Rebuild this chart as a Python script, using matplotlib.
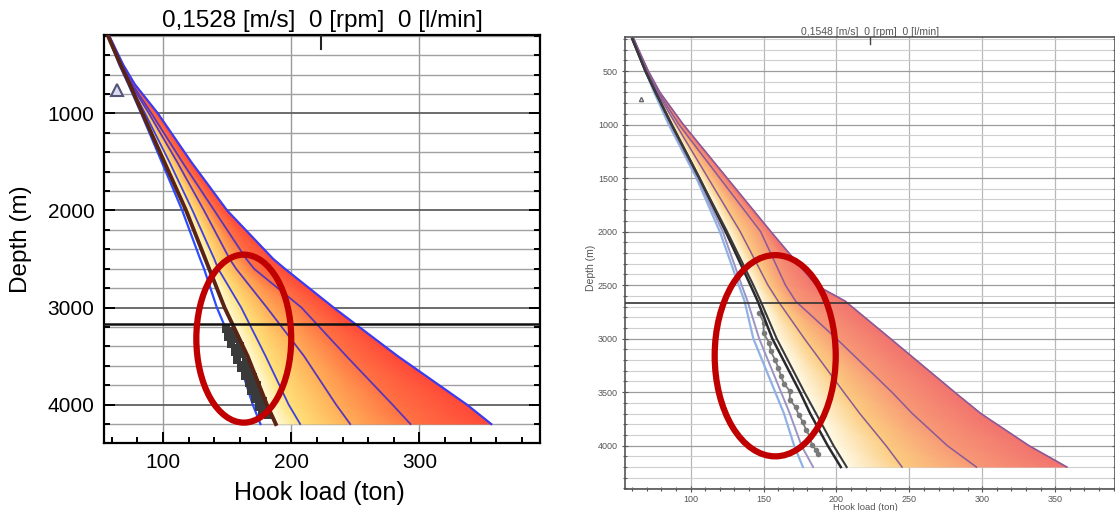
import matplotlib
matplotlib.use("Agg")
import matplotlib.pyplot as plt
import numpy as np
from matplotlib.colors import LinearSegmentedColormap
from matplotlib.patches import Ellipse
from matplotlib.ticker import MultipleLocator

plt.rcParams['font.family'] = ['Liberation Sans', 'DejaVu Sans']

# ---------------- Left chart data ----------------
L_TITLE = "0,1528 [m/s]  0 [rpm]  0 [l/min]"
L_DEPTH = [200, 500, 700, 1000, 1500, 2000, 2500, 2600, 3000, 3500, 4000, 4200]
L_BLUE = [57, 66, 73, 83, 99, 115, 129, 132, 142, 158, 170, 176]
L_BROWN = [57, 67, 74, 84, 101, 118, 133, 136, 148, 166, 181, 188]
L_C3 = [58, 67, 74, 86, 105, 123, 140, 143, 161, 180, 198, 207]
L_C4 = [58, 67, 75, 89, 111, 132, 152, 157, 181, 210, 235, 246]
L_C5 = [58, 68, 76, 91, 115, 140, 165, 171, 208, 243, 279, 293]
L_ENV = [58, 69, 78, 96, 122, 150, 186, 195, 233, 283, 337, 356]
L_SCATTER_LOAD = [149, 154, 151, 157, 153, 160, 156, 162, 158, 165, 161, 167,
                  164, 170, 167, 173, 169, 175, 172, 178, 175, 180, 177, 182,
                  152, 159, 163, 168, 174, 179]
L_SCATTER_DEPTH = [3220, 3240, 3300, 3320, 3380, 3400, 3460, 3480, 3540, 3560, 3620, 3640,
                   3700, 3720, 3780, 3800, 3860, 3880, 3940, 3960, 4020, 4040, 4090, 4110,
                   3260, 3420, 3590, 3750, 3910, 4070]
L_HLINE = 3170
L_MARKER = (64, 760)
L_XLIM = (54, 394)
L_YLIM = (4395, 193)

# ---------------- Right chart data ----------------
R_TITLE = "0,1548 [m/s]  0 [rpm]  0 [l/min]"
R_DEPTH = [200, 500, 700, 1000, 1500, 2000, 2500, 2650, 3000, 3500, 3700, 4000, 4200]
R_LBLUE = [60, 69, 75, 85, 104, 120, 133, 137, 143, 158, 164, 171, 177]
R_GPURP = [60, 69, 76, 86, 105, 122, 135, 139, 147, 162, 168, 176, 184]
R_BLACK1 = [60, 69, 76, 87, 106, 124, 141, 146, 156, 175, 182, 194, 203]
R_BLACK2 = [60, 69, 76, 87, 106, 125, 143, 148, 159, 178, 186, 198, 207]
R_C4 = [61, 70, 77, 90, 112, 134, 153, 160, 178, 205, 216, 234, 245]
R_C5 = [61, 70, 78, 92, 120, 148, 165, 172, 200, 238, 252, 276, 296]
R_ENV = [61, 71, 79, 95, 125, 155, 186, 206, 237, 281, 299, 332, 358]
R_SCATTER_LOAD = [147, 150, 150, 154, 155, 158, 160, 162, 164, 168, 168, 172, 174, 177, 179, 182, 183, 186, 187]
R_SCATTER_DEPTH = [2760, 2850, 2950, 3040, 3120, 3200, 3270, 3350, 3420, 3490, 3570, 3640, 3710, 3780, 3850, 3920, 3990, 4040, 4080]
R_HLINE = 2670
R_MARKER = (66, 760)
R_XLIM = (55, 391)
R_YLIM = (4405, 182)

TOP_MARK_LOAD = 223
L_ELLIPSE = dict(center=(163, 3320), width=74, height=1730)
R_ELLIPSE = dict(center=(158, 3160), width=83, height=1880)

fig = plt.figure(figsize=(11.15, 5.11), dpi=100)
W, H = 1115, 511


def gradient_band(ax, depth, left, right, c0, c1, cmap):
    X = np.column_stack([left, right])
    Y = np.column_stack([depth, depth])
    C = np.column_stack([np.full(len(depth), c0), np.full(len(depth), c1)])
    ax.pcolormesh(X, Y, C, shading='gouraud', cmap=cmap, vmin=0, vmax=1, zorder=2)


# ================= LEFT =================
ax1 = fig.add_axes([104 / W, 1 - 443 / H, 436 / W, 408 / H])
lcmap = LinearSegmentedColormap.from_list('l', ['#fffbe0', '#ffe27a', '#ffae58', '#ff7444', '#ff4838'])
bands = [L_BROWN, L_C3, L_C4, L_C5, L_ENV]
vals = [0.0, 0.25, 0.5, 0.75, 1.0]
for i in range(4):
    gradient_band(ax1, L_DEPTH, bands[i], bands[i + 1], vals[i], vals[i + 1], lcmap)

ax1.plot(L_ENV, L_DEPTH, color='#3b3bf0', lw=1.6, zorder=4)
ax1.plot(L_C5, L_DEPTH, color='#5a36b8', lw=1.3, zorder=4)
ax1.plot(L_C4, L_DEPTH, color='#5a36b8', lw=1.3, zorder=4)
ax1.plot(L_C3, L_DEPTH, color='#4040e0', lw=1.3, zorder=4)
ax1.plot(L_BLUE, L_DEPTH, color='#2c4cff', lw=1.6, zorder=4)
ax1.scatter(L_SCATTER_LOAD, L_SCATTER_DEPTH, marker='s', s=28, color='#3a3a3a', zorder=5, linewidths=0)
ax1.plot(L_BROWN, L_DEPTH, color='#5a2414', lw=2.8, zorder=6)
ax1.plot(*L_MARKER, marker='^', ms=9, mfc='#dcdcf0', mec='#55557a', mew=1.5, zorder=6)
ax1.axhline(L_HLINE, color='#111111', lw=1.8, zorder=7)
ax1.axvline(TOP_MARK_LOAD, ymin=0.965, ymax=1.0, color='#222222', lw=1.5, zorder=7)

ax1.set_xlim(*L_XLIM)
ax1.set_ylim(*L_YLIM)
ax1.xaxis.set_major_locator(MultipleLocator(100))
ax1.xaxis.set_minor_locator(MultipleLocator(20))
ax1.yaxis.set_major_locator(MultipleLocator(1000))
ax1.yaxis.set_minor_locator(MultipleLocator(200))
ax1.grid(True, which='major', axis='x', color='#9a9a9a', lw=1.0)
ax1.grid(True, which='minor', axis='y', color='#a0a0a0', lw=1.0)
ax1.grid(True, which='major', axis='y', color='#606060', lw=1.3)
ax1.set_axisbelow(True)
ax1.tick_params(which='both', direction='in', top=False, right=True, labelsize=15, width=1.4)
ax1.tick_params(which='major', length=8, pad=7)
ax1.tick_params(which='minor', length=4)
for s in ax1.spines.values():
    s.set_linewidth(1.6)
ax1.set_title(L_TITLE, fontsize=17.5, pad=6)
ax1.set_xlabel("Hook load (ton)", fontsize=18)
ax1.set_ylabel("Depth (m)", fontsize=17.5)
ax1.xaxis.set_label_coords(0.495, -0.093)
ax1.yaxis.set_label_coords(-0.165, 0.5)
ax1.add_patch(Ellipse(L_ELLIPSE['center'], L_ELLIPSE['width'], L_ELLIPSE['height'],
                      fill=False, edgecolor='#c00000', lw=4.5, zorder=10))

# ================= RIGHT =================
ax2 = fig.add_axes([625 / W, 1 - 489 / H, 490 / W, 452 / H])
rcmap = LinearSegmentedColormap.from_list('r', ['#fffbe8', '#fde898', '#fbbf74', '#f89476', '#f2736e'])
rbands = [R_BLACK2, R_C4, R_C5, R_ENV]
rvals = [0.0, 0.42, 0.72, 1.0]
for i in range(3):
    gradient_band(ax2, R_DEPTH, rbands[i], rbands[i + 1], rvals[i], rvals[i + 1], rcmap)

ax2.plot(R_ENV, R_DEPTH, color='#8a5a98', lw=1.2, zorder=4)
ax2.plot(R_C5, R_DEPTH, color='#8a5a98', lw=1.1, zorder=4)
ax2.plot(R_C4, R_DEPTH, color='#8a5a98', lw=1.1, zorder=4)
ax2.plot(R_LBLUE, R_DEPTH, color='#8fb2e6', lw=1.6, zorder=4)
ax2.plot(R_GPURP, R_DEPTH, color='#9a94c4', lw=1.4, zorder=4)
ax2.plot(R_SCATTER_LOAD, R_SCATTER_DEPTH, color='#7a7a7a', lw=1.3, marker='o', ms=3, zorder=5)
ax2.plot(R_BLACK1, R_DEPTH, color='#2a2a2a', lw=1.8, zorder=6)
ax2.plot(R_BLACK2, R_DEPTH, color='#3a3a3a', lw=1.5, zorder=6)
ax2.plot(*R_MARKER, marker='^', ms=3, mfc='none', mec='#666666', zorder=6)
ax2.axhline(R_HLINE, color='#333333', lw=1.2, zorder=7)
ax2.axvline(TOP_MARK_LOAD, ymin=0.985, ymax=1.0, color='#444444', lw=1.0, zorder=7)

ax2.set_xlim(*R_XLIM)
ax2.set_ylim(*R_YLIM)
ax2.xaxis.set_major_locator(MultipleLocator(50))
ax2.xaxis.set_minor_locator(MultipleLocator(10))
ax2.yaxis.set_major_locator(MultipleLocator(500))
ax2.yaxis.set_minor_locator(MultipleLocator(100))
ax2.grid(True, which='major', axis='x', color='#b8b8b8', lw=0.9)
ax2.grid(True, which='major', axis='y', color='#9c9c9c', lw=0.9)
ax2.grid(True, which='minor', axis='y', color='#cfcfcf', lw=0.8)
ax2.set_axisbelow(True)
ax2.tick_params(which='both', direction='inout', right=True, labelsize=6.5, labelcolor='#555555',
                color='#555555', width=0.8)
ax2.tick_params(which='major', length=5, pad=2.5)
ax2.tick_params(axis='x', which='major', pad=1.5)
ax2.tick_params(which='minor', length=3)
for s in ax2.spines.values():
    s.set_linewidth(1.2)
    s.set_color('#555555')
ax2.set_title(R_TITLE, fontsize=7.5, pad=1.5, color='#555555')
ax2.set_xlabel("Hook load (ton)", fontsize=6.8, color='#555555')
ax2.set_ylabel("Depth (m)", fontsize=7.5, color='#555555')
ax2.xaxis.set_label_coords(0.49, -0.03)
ax2.yaxis.set_label_coords(-0.06, 0.49)
ax2.add_patch(Ellipse(R_ELLIPSE['center'], R_ELLIPSE['width'], R_ELLIPSE['height'],
                      fill=False, edgecolor='#c00000', lw=4.5, zorder=10))

fig.savefig("out.png", dpi=100)
